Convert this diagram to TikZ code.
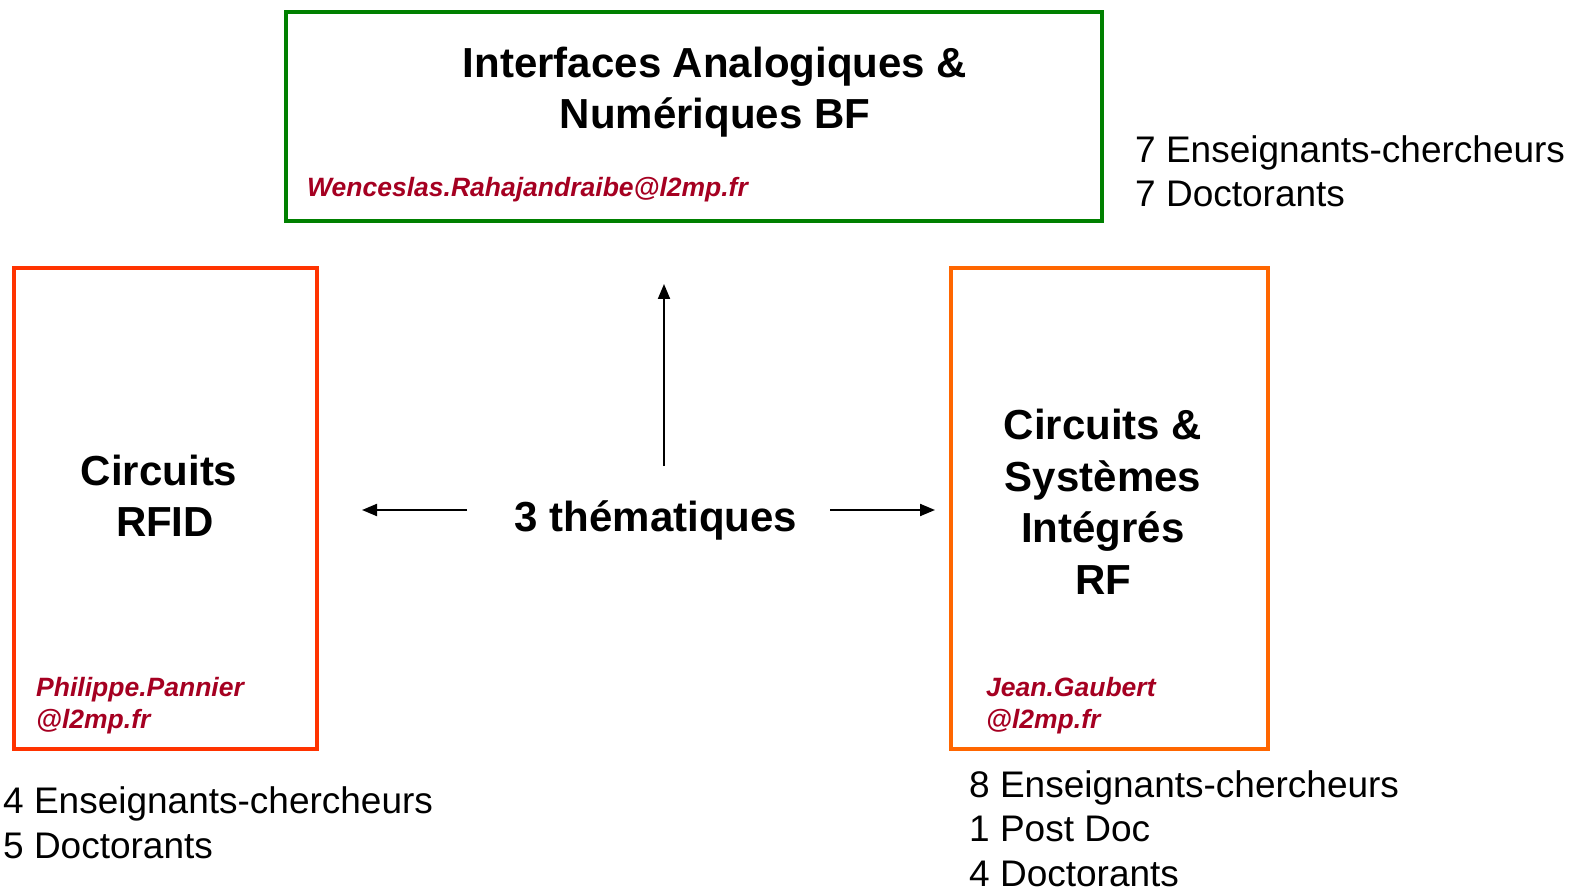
\documentclass[tikz,border=0pt]{standalone}
\usepackage{fontspec}
\setmainfont{Liberation Sans}
\usetikzlibrary{arrows.meta}
\definecolor{boxgreen}{RGB}{0,128,0}
\definecolor{boxred}{RGB}{255,51,0}
\definecolor{boxorange}{RGB}{255,102,0}
\definecolor{mailred}{RGB}{165,0,33}
\begin{document}
\begin{tikzpicture}[x=1pt,y=-1pt,
  framebox/.style={draw, line width=4.5pt, inner sep=0pt, fill=none},
  title/.style={font=\bfseries\fontsize{42}{51.5}\selectfont, align=center, anchor=base, inner sep=0pt},
  mail/.style={font=\bfseries\itshape\fontsize{26.5}{32}\selectfont, text=mailred, align=left, anchor=base west, inner sep=0pt},
  stats/.style={font=\fontsize{37}{44.5}\selectfont, align=left, anchor=base west, inner sep=0pt},
  conn/.style={line width=2pt, -{Triangle[length=15pt,width=12pt]}}]
\useasboundingbox (0,0) rectangle (1573,890);
% frames
\node[framebox, draw=boxgreen, minimum width=816pt, minimum height=209pt] (bf) at (694,116.5) {};
\node[framebox, draw=boxred, minimum width=303pt, minimum height=481pt] (rfid) at (165.5,508.5) {};
\node[framebox, draw=boxorange, minimum width=317pt, minimum height=481pt] (rf) at (1109.5,508.5) {};
% titles (anchor base = baseline of the last line)
\node[title] (bft) at (715,129) {Interfaces Analogiques \&\\Numériques BF};
\node[title] (rfidt) at (165,536.5) {Circuits\hspace*{0.278em}\\RFID};
\node[title] (rft) at (1103,594) {Circuits \&\\Systèmes\\Intégrés\\RF};
\node[title] (them) at (656,531.7) {3 thématiques};
% e-mails
\node[mail] (bfm) at (307,197) {Wenceslas.Rahajandraibe@l2mp.fr};
\node[mail] (rfidm) at (36,728.5) {Philippe.Pannier\\@l2mp.fr};
\node[mail] (rfm) at (986,728.5) {Jean.Gaubert\\@l2mp.fr};
% staff
\node[stats] (bfs) at (1135,206.7) {7 Enseignants-chercheurs\\7 Doctorants};
\node[stats] (rfids) at (3,858) {4 Enseignants-chercheurs\\5 Doctorants};
\node[stats] (rfs) at (969,886) {8 Enseignants-chercheurs\\1 Post Doc\\4 Doctorants};
% arrows
\coordinate (upA) at (664,466);
\coordinate (upB) at (664,284);
\coordinate (lA) at (467,510);
\coordinate (lB) at (362,510);
\coordinate (rA) at (830,510);
\coordinate (rB) at (935,510);
\draw[conn] (upA) -- (upB);
\draw[conn] (lA) -- (lB);
\draw[conn] (rA) -- (rB);
\end{tikzpicture}
\end{document}
